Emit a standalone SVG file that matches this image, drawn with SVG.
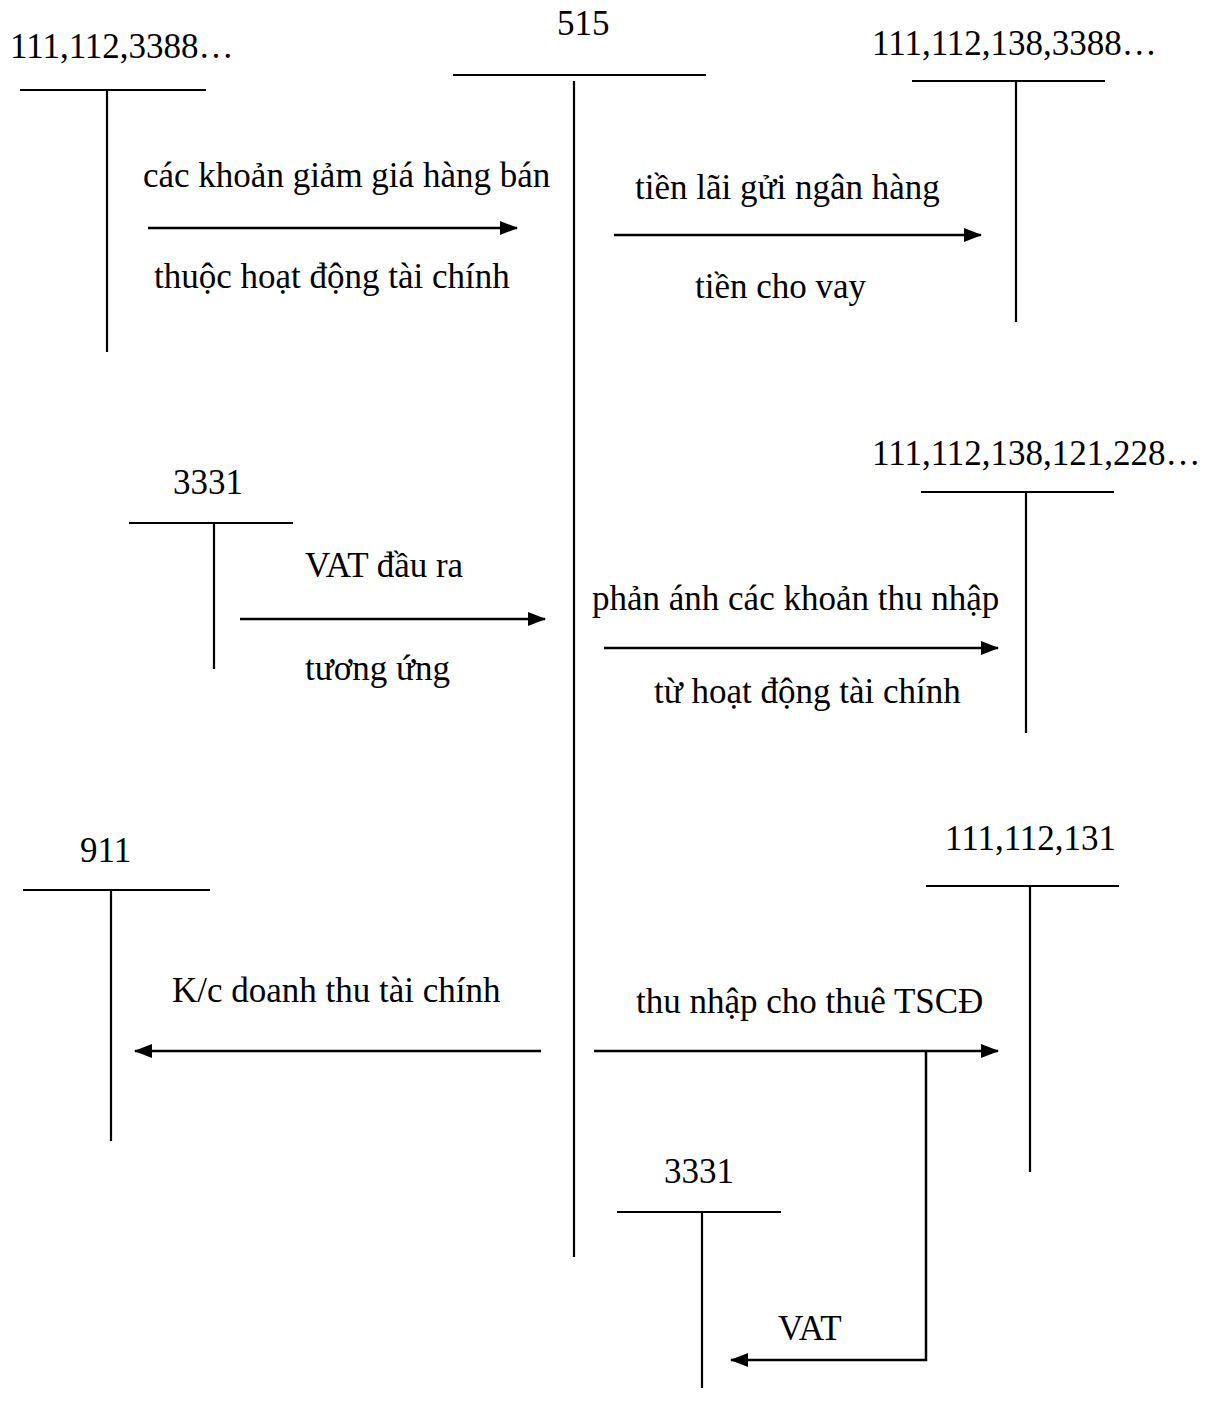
<svg xmlns="http://www.w3.org/2000/svg" width="1205" height="1417" viewBox="0 0 1205 1417">
<style>
text{font-family:"Liberation Serif","Times New Roman",serif;font-size:35px;fill:#000}
.t line{stroke:#000;stroke-width:2.2}
#connectors line,#connectors polyline{stroke:#000;stroke-width:2.5;fill:none}
</style>
<defs>
<marker id="ah" markerUnits="userSpaceOnUse" markerWidth="18" markerHeight="14" refX="17" refY="7" orient="auto">
<path d="M0,0 L18,7 L0,14 Z" fill="#000"/>
</marker>
</defs>
<rect width="1205" height="1417" fill="#fff"/>
<g id="acc-111-112-3388" class="t">
<text x="10" y="58">111,112,3388…</text>
<line x1="20" y1="90" x2="206" y2="90"/>
<line x1="107" y1="90" x2="107" y2="352"/>
</g>
<g id="acc-515" class="t">
<text x="557" y="35">515</text>
<line x1="453" y1="75" x2="706" y2="75"/>
<line x1="574" y1="81" x2="574" y2="1257"/>
</g>
<g id="acc-111-112-138-3388" class="t">
<text x="872" y="55">111,112,138,3388…</text>
<line x1="912" y1="81" x2="1105" y2="81"/>
<line x1="1016" y1="81" x2="1016" y2="322"/>
</g>
<g id="acc-3331-a" class="t">
<text x="173" y="494">3331</text>
<line x1="129" y1="523" x2="293" y2="523"/>
<line x1="214" y1="523" x2="214" y2="669"/>
</g>
<g id="acc-111-112-138-121-228" class="t">
<text x="872" y="465">111,112,138,121,228…</text>
<line x1="921" y1="492" x2="1114" y2="492"/>
<line x1="1026" y1="492" x2="1026" y2="733"/>
</g>
<g id="acc-911" class="t">
<text x="80" y="862">911</text>
<line x1="23" y1="890" x2="210" y2="890"/>
<line x1="111" y1="890" x2="111" y2="1141"/>
</g>
<g id="acc-111-112-131" class="t">
<text x="945" y="850">111,112,131</text>
<line x1="926" y1="886" x2="1119" y2="886"/>
<line x1="1030" y1="886" x2="1030" y2="1172"/>
</g>
<g id="acc-3331-b" class="t">
<text x="664" y="1183">3331</text>
<line x1="617" y1="1212" x2="781" y2="1212"/>
<line x1="702" y1="1212" x2="702" y2="1388"/>
</g>
<g id="connectors">
<line x1="148" y1="228" x2="517" y2="228" marker-end="url(#ah)"/>
<line x1="614" y1="235" x2="981" y2="235" marker-end="url(#ah)"/>
<line x1="240" y1="619" x2="545" y2="619" marker-end="url(#ah)"/>
<line x1="604" y1="648" x2="998" y2="648" marker-end="url(#ah)"/>
<line x1="541" y1="1051" x2="135" y2="1051" marker-end="url(#ah)"/>
<line x1="594" y1="1051" x2="998" y2="1051" marker-end="url(#ah)"/>
<polyline points="926,1051 926,1360 731,1360" marker-end="url(#ah)"/>
</g>
<g id="labels">
<text x="143" y="187">các khoản giảm giá hàng bán</text>
<text x="154" y="288">thuộc hoạt động tài chính</text>
<text x="635" y="199">tiền lãi gửi ngân hàng</text>
<text x="695" y="298">tiền cho vay</text>
<text x="305" y="577">VAT đầu ra</text>
<text x="305" y="680">tương ứng</text>
<text x="592" y="610">phản ánh các khoản thu nhập</text>
<text x="654" y="703">từ hoạt động tài chính</text>
<text x="172" y="1002">K/c doanh thu tài chính</text>
<text x="636" y="1013">thu nhập cho thuê TSCĐ</text>
<text x="778" y="1340">VAT</text>
</g>
</svg>
